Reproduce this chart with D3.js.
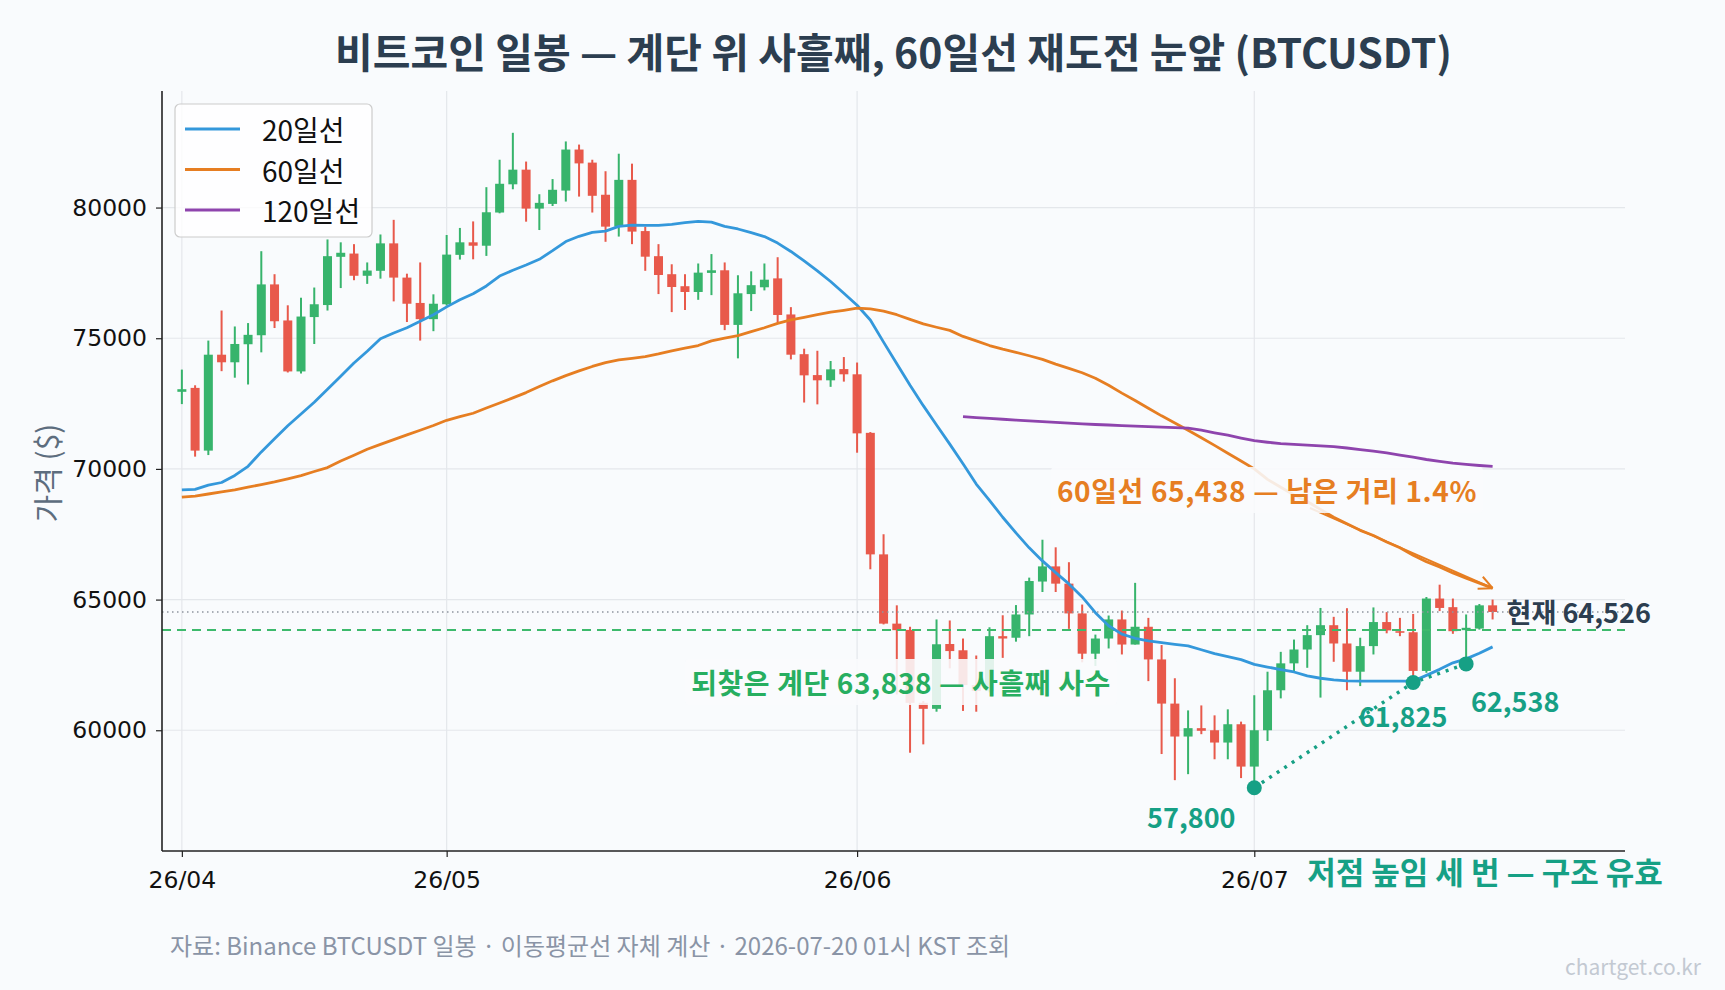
<!DOCTYPE html>
<html>
<head>
<meta charset="utf-8">
<script src="https://cdn.jsdelivr.net/npm/d3@7"></script>
<style>
  html, body { margin: 0; padding: 0; background: #f9fbfd; }
  svg { display: block; font-family: "Noto Sans CJK KR", "Noto Sans", sans-serif; }
</style>
</head>
<body>
<svg id="chart"></svg>
<script>
// 26/04/11 ~ 26/07/19 일봉, index 0..99
const tickIdx = [0, 20, 51, 81]
const tickLabels = ['26/04', '26/05', '26/06', '26/07']
const yTicks = [60000, 65000, 70000, 75000, 80000]

const opens = [
  72950,73100,70700,74370,74080,74770,75115,77060,75680,73730,
  75810,76270,78115,78240,77390,77580,78630,77320,76350,75730,
  76300,78190,78670,78540,79810,80890,81450,79960,80140,80650,
  82220,81720,80490,79270,81060,79100,78140,77450,76990,76770,
  77500,77600,75510,76690,76950,77290,75910,74390,73590,73390,
  73820,73620,71380,66730,64080,63840,61050,60820,63300,63060,
  61730,61500,63600,63540,64430,65690,66270,65610,64470,62930,
  63510,64240,63280,63960,62710,61020,59760,60080,60000,59530,
  60230,58610,60000,61530,62560,63090,63640,64020,63320,62240,
  63220,64140,63790,63750,62270,65040,64710,63830,63890,64780]
const highs = [
  73800,73200,74910,76060,75450,75580,78330,77450,76260,76550,
  76940,78780,78670,78600,77900,78970,79530,77470,77900,76680,
  78950,79220,79470,80780,81830,82860,81760,80510,81090,82530,
  82410,81830,81390,82060,81680,79270,78600,77830,77450,77860,
  78220,77900,77410,77560,77860,78100,76190,74600,74520,74130,
  74280,74070,71410,67500,64780,63960,61120,64240,64200,63510,
  62860,63940,64400,64790,65840,67290,67000,66430,64810,63660,
  64390,64580,65640,64300,63260,61990,60760,60950,60570,60800,
  60330,61340,62240,63000,63470,64020,64680,64340,64670,63540,
  64700,64520,64300,64450,65100,65570,65040,64430,64830,65000]
const lows = [
  72480,70470,70530,73740,73490,73230,74460,75390,73690,73650,
  74780,76060,76920,77220,77080,77280,76410,75620,74910,75270,
  76250,78010,78020,78150,79780,80700,79460,79140,80060,80230,
  80420,79810,78690,78890,78600,77580,76690,76000,76080,76470,
  76650,75310,74230,76040,76830,75600,74190,72540,72470,73140,
  73340,70620,66160,64050,61370,59140,59460,60710,62370,60740,
  60710,61450,62770,63390,63600,65290,65290,63880,62600,62460,
  63130,62900,63280,61880,59090,58090,58320,59850,58890,58890,
  58170,57800,59590,61220,62200,62390,61250,62620,61530,61690,
  62900,63710,63600,61825,62200,64560,63690,62538,63850,64240]
const closes = [
  73050,70700,74370,74080,74780,75130,77060,75650,73730,75830,
  76300,78140,78270,77390,77590,78630,77320,76320,75730,76320,
  78200,78670,78540,79820,80910,81450,79960,80180,80680,82220,
  81690,80450,79270,81060,79080,78120,77420,76960,76770,77510,
  77600,75510,76720,77030,77240,75890,74370,73580,73390,73810,
  73620,71360,66730,64080,63830,61050,60820,63290,63030,61730,
  61500,63600,63510,64430,65710,66270,65610,64470,62930,63510,
  64240,63280,63960,62710,61020,59760,60080,59980,59530,60230,
  58610,60000,61530,62560,63090,63640,64020,63320,62240,63220,
  64140,63820,63730,62270,65040,64680,63790,63920,64780,64526]

const ma20 = [
  69200,69220,69380,69480,69750,70100,70650,71150,71650,72100,
  72550,73050,73550,74050,74500,74980,75200,75400,75650,75900,
  76200,76470,76700,77000,77380,77600,77800,78020,78350,78700,
  78900,79050,79100,79280,79330,79320,79320,79360,79420,79470,
  79440,79280,79180,79040,78890,78640,78320,77960,77580,77170,
  76720,76260,75700,74850,74020,73200,72420,71680,70950,70200,
  69420,68800,68150,67550,66980,66480,66030,65600,65100,64500,
  64000,63680,63520,63420,63350,63290,63230,63080,62930,62820,
  62700,62520,62420,62320,62230,62080,61990,61930,61890,61880,
  61880,61880,61880,61880,62100,62330,62580,62730,62950,63190]
const ma60 = [
  68920,68960,69040,69120,69200,69300,69400,69500,69620,69740,
  69900,70050,70300,70520,70750,70940,71120,71300,71480,71660,
  71860,72000,72130,72330,72520,72720,72920,73150,73370,73570,
  73750,73920,74070,74170,74230,74300,74400,74520,74620,74720,
  74900,75000,75100,75250,75400,75570,75700,75800,75900,76000,
  76070,76150,76120,76040,75900,75720,75550,75420,75300,75070,
  74900,74720,74580,74460,74330,74190,74010,73850,73680,73470,
  73200,72900,72620,72320,72030,71760,71480,71190,70900,70600,
  70300,70000,69600,69300,69000,68750,68450,68150,67900,67650,
  67450,67200,66980,66700,66450,66250,66020,65820,65630,65438]
// 120일선은 index 59부터
const ma120Start = 59
const ma120 = [
  72000,71960,71930,71900,71870,71840,71810,71780,71750,71720,
  71700,71680,71660,71640,71620,71600,71580,71560,71480,71380,
  71290,71180,71080,71020,70970,70940,70910,70880,70850,70800,
  70740,70680,70610,70530,70450,70360,70290,70220,70170,70130,
  70100]

const stairLevel = 63838
const lastPrice = 64526
const lowIdx = [81, 93, 97]
const lowVals = [57800, 61825, 62538]

const W = 1725, H = 990
const margin = {top: 91, right: 100, bottom: 139, left: 162}

const svg = d3.select('#chart').attr('width', W).attr('height', H)
svg.append('rect').attr('width', W).attr('height', H).attr('fill', '#f9fbfd')

const x = d3.scaleLinear().domain([-1.5, 109]).range([margin.left, W - margin.right])
const y = d3.scaleLinear().domain([55380, 84460]).range([H - margin.bottom, margin.top])

const green = '#27ae60', red = '#e74c3c'
const teal = '#16a085', orange = '#e67e22', navy = '#2c3e50'

// grid
svg.append('g').selectAll('line').data(yTicks).join('line')
    .attr('x1', x.range()[0]).attr('x2', x.range()[1])
    .attr('y1', d => y(d)).attr('y2', d => y(d))
    .attr('stroke', '#e4e7eb').attr('stroke-width', 1.2)
svg.append('g').selectAll('line').data(tickIdx).join('line')
    .attr('x1', d => x(d)).attr('x2', d => x(d))
    .attr('y1', y.range()[0]).attr('y2', y.range()[1])
    .attr('stroke', '#e4e7eb').attr('stroke-width', 1.2)

// candles
const idx = d3.range(opens.length)
const bodyW = 9
const candles = svg.append('g').attr('opacity', 0.92)
candles.selectAll('line').data(idx).join('line')
    .attr('x1', i => x(i)).attr('x2', i => x(i))
    .attr('y1', i => y(highs[i])).attr('y2', i => y(lows[i]))
    .attr('stroke', i => closes[i] >= opens[i] ? green : red)
    .attr('stroke-width', 2)
candles.selectAll('rect').data(idx).join('rect')
    .attr('x', i => x(i) - bodyW / 2)
    .attr('width', bodyW)
    .attr('y', i => y(Math.max(opens[i], closes[i])))
    .attr('height', i => Math.max(1.5, Math.abs(y(opens[i]) - y(closes[i]))))
    .attr('fill', i => closes[i] >= opens[i] ? green : red)

// reference lines
svg.append('line')
    .attr('x1', x.range()[0]).attr('x2', x.range()[1])
    .attr('y1', y(lastPrice)).attr('y2', y(lastPrice))
    .attr('stroke', '#8e959e').attr('stroke-width', 1.4)
    .attr('stroke-dasharray', '1.5,3.5')
svg.append('line')
    .attr('x1', x.range()[0]).attr('x2', x.range()[1])
    .attr('y1', y(stairLevel)).attr('y2', y(stairLevel))
    .attr('stroke', '#3dba6c').attr('stroke-width', 2)
    .attr('stroke-dasharray', '9,6')

// moving averages
const line = d3.line().x(d => x(d[0])).y(d => y(d[1])).curve(d3.curveLinear)
const series = [
  {name: '20일선', color: '#3498db', pts: ma20.map((v, i) => [i, v])},
  {name: '60일선', color: orange, pts: ma60.map((v, i) => [i, v])},
  {name: '120일선', color: '#8e44ad', pts: ma120.map((v, i) => [i + ma120Start, v])}
]
series.forEach(s => {
  svg.append('path').datum(s.pts)
      .attr('fill', 'none').attr('stroke', s.color).attr('stroke-width', 2.8)
      .attr('stroke-linejoin', 'round')
      .attr('d', line)
})

// higher lows
svg.append('path').datum(lowIdx.map((d, i) => [d, lowVals[i]]))
    .attr('fill', 'none').attr('stroke', teal).attr('stroke-width', 3.5)
    .attr('stroke-dasharray', '3,6')
    .attr('d', line)
svg.append('g').selectAll('circle').data(lowIdx).join('circle')
    .attr('cx', d => x(d)).attr('cy', (d, i) => y(lowVals[i]))
    .attr('r', 7.5).attr('fill', teal)
const lowOff = [[-63, 29], [-10, 33], [49, 37]]
svg.append('g').selectAll('text').data(lowIdx).join('text')
    .attr('x', (d, i) => x(d) + lowOff[i][0])
    .attr('y', (d, i) => y(lowVals[i]) + lowOff[i][1])
    .attr('text-anchor', 'middle').attr('dominant-baseline', 'central')
    .attr('fill', teal).attr('font-size', 27).attr('font-weight', 'bold')
    .text((d, i) => d3.format(',')(lowVals[i]))

// label with soft box
function boxLabel(txt, cx, cy, color, size) {
  const g = svg.append('g')
  const t = g.append('text')
      .attr('x', cx).attr('y', cy)
      .attr('text-anchor', 'middle').attr('dominant-baseline', 'central')
      .attr('fill', color).attr('font-size', size).attr('font-weight', 'bold')
      .attr('letter-spacing', 0.6)
      .text(txt)
  const bb = t.node().getBBox()
  g.insert('rect', 'text')
      .attr('x', bb.x - 6).attr('y', bb.y - 3)
      .attr('width', bb.width + 12).attr('height', bb.height + 6)
      .attr('rx', 4)
      .attr('fill', '#f9fbfd').attr('opacity', 0.88)
  return bb
}

// 60일선 arrow
const tip = [x(99), y(ma60[99])]
const start = [1310, 508]
svg.append('line')
    .attr('x1', start[0]).attr('y1', start[1]).attr('x2', tip[0]).attr('y2', tip[1])
    .attr('stroke', orange).attr('stroke-width', 2)
const ang = Math.atan2(tip[1] - start[1], tip[0] - start[0])
;[-0.45, 0.45].forEach(a => {
  svg.append('line')
      .attr('x1', tip[0]).attr('y1', tip[1])
      .attr('x2', tip[0] - 15 * Math.cos(ang + a)).attr('y2', tip[1] - 15 * Math.sin(ang + a))
      .attr('stroke', orange).attr('stroke-width', 2)
})
boxLabel('60일선 ' + d3.format(',')(ma60[99]) + ' — 남은 거리 1.4%', 1267, 490, orange, 28)
boxLabel('되찾은 계단 ' + d3.format(',')(stairLevel) + ' — 사흘째 사수', 901, 682, green, 28)

svg.append('text')
    .attr('x', x(99) + 14).attr('y', y(lastPrice))
    .attr('dominant-baseline', 'central')
    .attr('fill', navy).attr('font-size', 27).attr('font-weight', 'bold')
    .text('현재 ' + d3.format(',')(lastPrice))

svg.append('text')
    .attr('x', 1485).attr('y', 870)
    .attr('text-anchor', 'middle').attr('dominant-baseline', 'central')
    .attr('fill', teal).attr('font-size', 31).attr('font-weight', 'bold')
    .text('저점 높임 세 번 — 구조 유효')

// axes
const yAxis = svg.append('g')
    .attr('transform', 'translate(' + margin.left + ',0)')
    .call(d3.axisLeft(y).tickValues(yTicks).tickFormat(d3.format('d')).tickSize(6).tickPadding(9))
const xAxis = svg.append('g')
    .attr('transform', 'translate(0,' + (H - margin.bottom) + ')')
    .call(d3.axisBottom(x).tickValues(tickIdx).tickFormat((d, i) => tickLabels[i]).tickSize(6).tickPadding(14))
;[yAxis, xAxis].forEach(a => {
  a.select('.domain').attr('stroke', '#222').attr('stroke-width', 1.6)
  a.selectAll('.tick line').attr('stroke', '#222').attr('stroke-width', 1.2)
  a.selectAll('.tick text').attr('font-size', 23.5).attr('fill', '#111')
      .attr('font-family', '"DejaVu Sans", sans-serif')
})
xAxis.select('.domain').attr('d', 'M' + x.range()[0] + ',0H' + x.range()[1])
yAxis.select('.domain').attr('d', 'M0,' + y.range()[0] + 'V' + y.range()[1])

svg.append('text')
    .attr('transform', 'translate(46,473) rotate(-90)')
    .attr('text-anchor', 'middle').attr('dominant-baseline', 'central')
    .attr('fill', '#5d6d7e').attr('font-size', 30)
    .text('가격 ($)')

// legend
const lg = svg.append('g').attr('transform', 'translate(175,104)')
lg.append('rect').attr('width', 197).attr('height', 133).attr('rx', 5)
    .attr('fill', '#fff').attr('fill-opacity', 0.8)
    .attr('stroke', '#cccccc').attr('stroke-width', 1.2)
series.forEach((s, i) => {
  const yy = 25 + i * 40.5
  lg.append('line').attr('x1', 10).attr('x2', 65).attr('y1', yy).attr('y2', yy)
      .attr('stroke', s.color).attr('stroke-width', 2.8)
  lg.append('text').attr('x', 87).attr('y', yy).attr('dominant-baseline', 'central')
      .attr('font-size', 28).attr('fill', '#111').text(s.name)
})

// title & footer
svg.append('text')
    .attr('x', (x.range()[0] + x.range()[1]) / 2).attr('y', 50)
    .attr('text-anchor', 'middle').attr('dominant-baseline', 'central')
    .attr('fill', navy).attr('font-size', 41).attr('font-weight', 'bold')
    .text('비트코인 일봉 — 계단 위 사흘째, 60일선 재도전 눈앞 (BTCUSDT)')
svg.append('text')
    .attr('x', 170).attr('y', 944).attr('dominant-baseline', 'central')
    .attr('fill', '#8a94a6').attr('font-size', 24)
    .text('자료: Binance BTCUSDT 일봉 · 이동평균선 자체 계산 · 2026-07-20 01시 KST 조회')
svg.append('text')
    .attr('x', 1701).attr('y', 966).attr('text-anchor', 'end').attr('dominant-baseline', 'central')
    .attr('fill', '#c3c9d2').attr('font-size', 21)
    .text('chartget.co.kr')
</script>
</body>
</html>
